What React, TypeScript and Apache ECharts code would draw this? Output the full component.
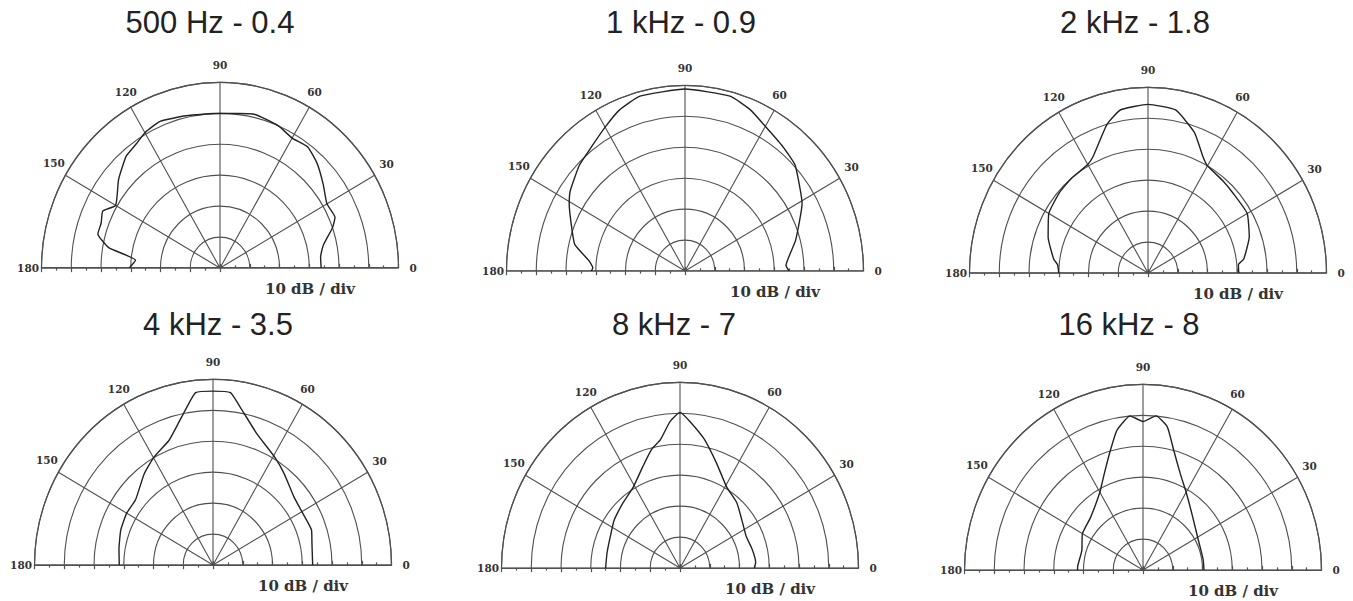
import { useEffect, useRef } from 'react';
import * as echarts from 'echarts';

// ---- data (angle in degrees, level in dB relative to the outer ring; 10 dB / div) ----
const TITLES = ['500 Hz - 0.4', '1 kHz - 0.9', '2 kHz - 1.8', '4 kHz - 3.5', '8 kHz - 7', '16 kHz - 8'];

const ANGLES_500 = [0, 6, 12, 19, 23, 30, 38, 46, 53, 60, 67, 77, 90, 103, 113, 120, 125, 131, 140, 150, 155, 160, 165, 170, 175, 180];
const DB_500 = [-26, -26, -24.5, -20, -18, -18.5, -16, -13, -11, -11.5, -10, -9, -10, -9.5, -8.5, -9.5, -11, -12, -15.5, -19.5, -16.5, -17.5, -17.5, -22, -31.5, -29.5];

const ANGLES_1K = [0, 3, 15, 29, 36, 43, 51, 60, 67, 75, 90, 105, 113, 120, 128, 136, 146, 151, 160, 167, 174, 178, 180];
const DB_1K = [-25, -26, -21.5, -15, -12.5, -9.5, -8, -6, -3.5, -1.5, -1.2, -1.5, -3.5, -6.3, -9, -10.7, -13.5, -15.5, -19.5, -22, -27.5, -29, -28.5];

const ANGLES_2K = [0, 5, 8, 19, 30, 42, 50, 60, 64, 71, 80, 90, 100, 106, 116, 120, 130, 139, 150, 161, 172, 175, 180];
const DB_2K = [-29.5, -29.5, -27.5, -24, -21.5, -21.5, -21, -20, -18, -12, -6.5, -5.5, -6.5, -10, -18, -19.5, -20, -20.5, -21.5, -24.5, -28, -29.5, -30];

const ANGLES_4K = [0, 12, 19, 30, 39, 51, 59, 71, 80, 84, 90, 96, 100, 104, 110, 120, 128, 141, 150, 160, 171, 180];
const DB_4K = [-26.5, -26, -25, -25.5, -25, -22, -19.5, -15, -8, -4, -3.8, -4, -8.5, -12.5, -17, -20, -22.5, -26.5, -26.5, -27, -28, -28.5];

const ANGLES_8K = [0, 4, 14, 25, 37, 48, 59, 70, 79, 86, 90, 94, 99, 104, 111, 121, 132, 145, 157, 169, 180];
const DB_8K = [-35, -34.5, -35, -35.5, -34, -31.5, -29.5, -24, -17.5, -12.5, -9.7, -12.5, -18, -20.5, -25, -29.5, -31.5, -33, -34.5, -35, -35];

const ANGLES_16K = [0, 9, 18, 28, 46, 60, 68, 75, 80, 85, 90, 95, 101, 106, 113, 120, 136, 150, 163, 177, 180];
const DB_16K = [-39.5, -39.5, -39.5, -39, -36, -31, -26.5, -20, -13, -10, -12, -10, -14, -20, -26.5, -31, -35.5, -36.5, -38.5, -38, -38];

const RADIUS_MIN = -60;
const RADIUS_MAX = 0;
const RADIUS_STEP = 10;
const ANGLE_STEP = 30;
const SCALE_LABEL = '10 dB / div';

const CURVES = [
  [ANGLES_500, DB_500],
  [ANGLES_1K, DB_1K],
  [ANGLES_2K, DB_2K],
  [ANGLES_4K, DB_4K],
  [ANGLES_8K, DB_8K],
  [ANGLES_16K, DB_16K],
];

// ---- layout (design coordinates, the chart is stretched vertically by STRETCH) ----
const STRETCH = 1.04;
const W = 1353;
const H = Math.round(601 / STRETCH);
const R = 178.5;
const CENTERS = [
  [220, 268 / STRETCH],
  [685, 271 / STRETCH],
  [1148, 273 / STRETCH],
  [213, 565 / STRETCH],
  [680, 568 / STRETCH],
  [1143, 570 / STRETCH],
];
const TITLE_POS = [
  [210, 21.5 / STRETCH],
  [681, 21.5 / STRETCH],
  [1135, 21.5 / STRETCH],
  [218, 324 / STRETCH],
  [674, 324 / STRETCH],
  [1129, 324 / STRETCH],
];

// padding [top, right, bottom, left] of each angle label, placing it around the ring
const LABEL_MARGIN = -12;
const LABEL_PAD: Record<number, number[]> = {
  0: [0, 0, 0, 23],
  30: [0, 0, 10.5, 15],
  60: [0, 0, 19.5, 4],
  90: [0, 0, 23, 0],
  120: [0, 0, 19.5, 0],
  150: [0, 11, 11.5, 0],
  180: [0, 14.5, 0, 0],
};

const GRID = '#505050';
const LABEL_FONT = { fontFamily: 'DejaVu Serif', fontWeight: 'bold' as const, fontSize: 10.5, color: '#333' };

export default function App() {
  const ref = useRef<HTMLDivElement>(null);

  useEffect(() => {
    if (!ref.current) return;
    const chart = echarts.init(ref.current, undefined, { renderer: 'svg' });

    const rich: Record<string, any> = {};
    Object.keys(LABEL_PAD).forEach((k) => {
      rich['a' + k] = { ...LABEL_FONT, padding: LABEL_PAD[Number(k)] };
    });

    const polar: any[] = [];
    const angleAxis: any[] = [];
    const radiusAxis: any[] = [];
    const series: any[] = [];
    const elements: any[] = [];
    const n = CENTERS.length;

    CENTERS.forEach((c, i) => {
      polar[i] = { center: [c[0], c[1]], radius: R };
      angleAxis[i] = {
        polarIndex: i,
        type: 'value',
        min: 0,
        max: 180,
        interval: ANGLE_STEP,
        startAngle: 0,
        endAngle: 180,
        clockwise: false,
        axisLine: { show: true, lineStyle: { color: GRID, width: 1.2 } },
        axisTick: { show: false },
        axisLabel: {
          show: true,
          margin: LABEL_MARGIN,
          ...LABEL_FONT,
          formatter: (v: number) => `{a${v}|${v}}`,
          rich,
        },
        splitLine: { show: true, lineStyle: { color: GRID, width: 1.1 } },
      };
      radiusAxis[i] = {
        polarIndex: i,
        type: 'value',
        min: RADIUS_MIN,
        max: RADIUS_MAX,
        interval: RADIUS_STEP,
        axisLine: { show: false },
        axisTick: { show: false },
        axisLabel: { show: false },
        splitLine: { show: true, lineStyle: { color: GRID, width: 1.1 } },
      };

      // auxiliary polars drawing the scale ticks along the baseline (right and left)
      [0, 180].forEach((start, k) => {
        const idx = n + k * n + i;
        polar[idx] = { center: [c[0], c[1]], radius: R };
        angleAxis[idx] = {
          polarIndex: idx,
          type: 'value',
          min: 0,
          max: 360,
          startAngle: start,
          show: false,
        };
        radiusAxis[idx] = {
          polarIndex: idx,
          type: 'value',
          min: RADIUS_MIN,
          max: RADIUS_MAX,
          interval: RADIUS_STEP,
          axisLine: { show: true, lineStyle: { color: GRID, width: 1.3 } },
          axisTick: { show: true, inside: start === 0, length: 4, lineStyle: { color: GRID, width: 1.2 } },
          minorTick: { show: true, splitNumber: 2, length: 2.5, lineStyle: { color: GRID, width: 1.2 } },
          axisLabel: { show: false },
          splitLine: { show: false },
        };
      });

      const [ang, lev] = CURVES[i];
      series.push({
        type: 'line',
        coordinateSystem: 'polar',
        polarIndex: i,
        data: lev.map((v, k) => [v, ang[k]]),
        symbol: 'none',
        smooth: 0.15,
        lineStyle: { color: '#222', width: 1.4 },
        z: 5,
      });

      elements.push({
        type: 'text',
        x: TITLE_POS[i][0],
        y: TITLE_POS[i][1],
        style: {
          text: TITLES[i],
          align: 'center',
          verticalAlign: 'middle',
          font: '31px "Liberation Sans", Arial, sans-serif',
          fill: '#222',
        },
      });
      elements.push({
        type: 'text',
        x: c[0] + 90,
        y: c[1] + 20,
        style: {
          text: SCALE_LABEL,
          align: 'center',
          verticalAlign: 'middle',
          font: 'bold 15px "DejaVu Serif", serif',
          fill: '#333',
        },
      });
    });

    chart.setOption({
      animation: false,
      backgroundColor: '#fff',
      polar,
      angleAxis,
      radiusAxis,
      series,
      graphic: { elements },
    });

    return () => chart.dispose();
  }, []);

  return (
    <div
      ref={ref}
      style={{
        position: 'absolute',
        left: 0,
        top: 0,
        width: W,
        height: H,
        transform: `scaleY(${STRETCH})`,
        transformOrigin: 'top left',
        background: '#fff',
      }}
    />
  );
}
